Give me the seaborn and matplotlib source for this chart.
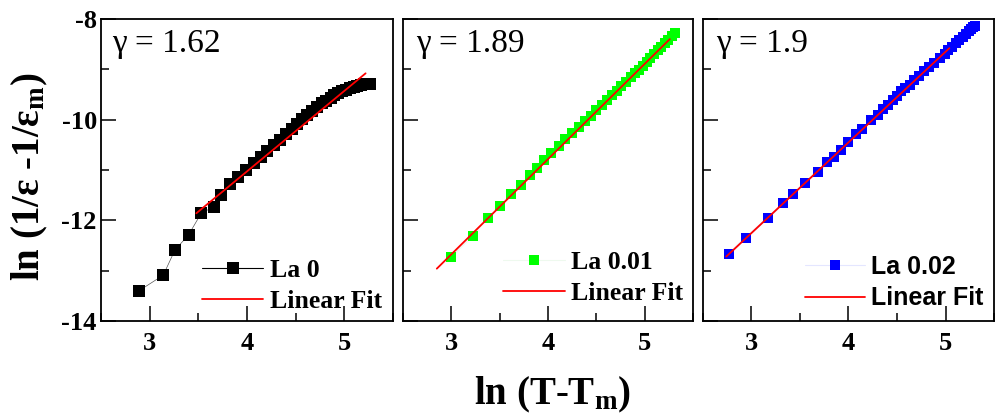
import numpy as np
import pandas as pd
import matplotlib
matplotlib.use("Agg")
import matplotlib.pyplot as plt
from matplotlib.font_manager import FontProperties
from matplotlib.ticker import MultipleLocator
import seaborn as sns

# ---- data ----
# La 0
x_la0 = [2.89, 3.14, 3.26, 3.40, 3.53, 3.66, 3.73, 3.83, 3.91, 3.99, 4.07, 4.14,
         4.21, 4.28, 4.34, 4.40, 4.46, 4.52, 4.57, 4.62, 4.67, 4.72, 4.77, 4.81,
         4.86, 4.90, 4.94, 4.98, 5.02, 5.06, 5.10, 5.13, 5.17, 5.20, 5.24, 5.27]
y_la0 = [-13.40, -13.09, -12.59, -12.29, -11.86, -11.73, -11.50, -11.27, -11.13, -11.00,
         -10.87, -10.75, -10.62, -10.50, -10.40, -10.29, -10.19, -10.08, -9.99, -9.90,
         -9.82, -9.74, -9.67, -9.62, -9.56, -9.51, -9.47, -9.44, -9.41, -9.38, -9.35,
         -9.33, -9.31, -9.30, -9.29, -9.29]
fit_x_la0 = [3.48, 5.22]
fit_y_la0 = [-11.86, -9.08]

# La 0.01
x_la1 = [3.00, 3.22, 3.38, 3.50, 3.62, 3.72, 3.81, 3.89, 3.96, 4.03, 4.11, 4.18,
         4.25, 4.32, 4.38, 4.44, 4.50, 4.56, 4.61, 4.66, 4.71, 4.76, 4.81, 4.86,
         4.90, 4.94, 4.98, 5.02, 5.06, 5.10, 5.14, 5.17, 5.21, 5.24, 5.28, 5.31]
y_la1 = [-12.73, -12.31, -11.95, -11.71, -11.48, -11.30, -11.10, -10.96, -10.80, -10.67,
         -10.52, -10.39, -10.27, -10.14, -10.03, -9.92, -9.81, -9.70, -9.61, -9.52,
         -9.43, -9.34, -9.25, -9.16, -9.08, -9.01, -8.93, -8.86, -8.78, -8.70, -8.62,
         -8.56, -8.48, -8.42, -8.34, -8.28]
fit_x_la1 = [2.85, 5.26]
fit_y_la1 = [-12.96, -8.40]

# La 0.02
x_la2 = [2.77, 2.94, 3.17, 3.33, 3.43, 3.55, 3.69, 3.78, 3.85, 3.92, 4.00, 4.08,
         4.14, 4.23, 4.30, 4.36, 4.41, 4.46, 4.50, 4.54, 4.58, 4.63, 4.68, 4.73,
         4.78, 4.83, 4.88, 4.94, 4.99, 5.03, 5.07, 5.11, 5.14, 5.18, 5.21, 5.24,
         5.26, 5.28, 5.30]
y_la2 = [-12.67, -12.35, -11.95, -11.66, -11.48, -11.25, -11.04, -10.85, -10.74, -10.60,
         -10.45, -10.29, -10.19, -10.01, -9.91, -9.79, -9.70, -9.61, -9.53, -9.44,
         -9.38, -9.31, -9.22, -9.13, -9.04, -8.95, -8.87, -8.78, -8.69, -8.62, -8.55,
         -8.48, -8.42, -8.35, -8.29, -8.23, -8.19, -8.16, -8.13]
fit_x_la2 = [2.74, 5.04]
fit_y_la2 = [-12.72, -8.58]

labels = ["La 0", "La 0.01", "La 0.02"]
gammas = ["1.62", "1.89", "1.9"]

sns.set_style("ticks")
plt.rcParams["font.family"] = "serif"
plt.rcParams["font.serif"] = ["Liberation Serif", "DejaVu Serif"]
plt.rcParams["font.weight"] = "bold"
plt.rcParams["text.color"] = "black"
plt.rcParams["xtick.color"] = "black"
plt.rcParams["ytick.color"] = "black"
plt.rcParams["axes.unicode_minus"] = False
plt.rcParams["mathtext.fontset"] = "custom"
plt.rcParams["mathtext.rm"] = "Liberation Serif:bold"
plt.rcParams["mathtext.it"] = "Liberation Serif:bold"
plt.rcParams["mathtext.bf"] = "Liberation Serif:bold"

tick_font = FontProperties(family="Liberation Serif", weight="bold", size=19)
gamma_font = FontProperties(family="Liberation Serif", weight="normal", size=24)

fig = plt.figure(figsize=(9.96, 4.19), dpi=100)
lefts = [0.1014, 0.4046, 0.7058]
widths = [0.293, 0.2912, 0.2922]
axes = [fig.add_axes([l, 0.2339, w, 0.7208]) for l, w in zip(lefts, widths)]

panels = [
    dict(x=x_la0, y=y_la0, fx=fit_x_la0, fy=fit_y_la0, mc="black", lc="#555555",
         ms=8, leg_ms=9, lw=0.5, leg_lc="black", leg_pos=(0.345, 0.115),
         prop=dict(family="Liberation Serif", weight="bold", size=18.5)),
    dict(x=x_la1, y=y_la1, fx=fit_x_la1, fy=fit_y_la1, mc="#00ff00", lc="#eef9ee",
         ms=7.2, leg_ms=7.5, lw=0.8, leg_lc="#eef9ee", leg_pos=(0.345, 0.143),
         prop=dict(family="Liberation Serif", weight="bold", size=18.5)),
    dict(x=x_la2, y=y_la2, fx=fit_x_la2, fy=fit_y_la2, mc="#0000ff", lc="#e4e6ff",
         ms=6.6, leg_ms=7.5, lw=1.5, leg_lc="#e4e6ff", leg_pos=(0.350, 0.127),
         prop=dict(family="Liberation Sans", weight="bold", size=18)),
]

for i, (ax, p) in enumerate(zip(axes, panels)):
    df = pd.DataFrame({"x": p["x"], "y": p["y"]})
    fit = pd.DataFrame({"x": p["fx"], "y": p["fy"]})
    sns.lineplot(data=df, x="x", y="y", ax=ax, color=p["lc"], lw=p["lw"],
                 marker="s", markersize=p["ms"], markerfacecolor=p["mc"],
                 markeredgecolor=p["mc"], markeredgewidth=0, label=labels[i])
    sns.lineplot(data=fit, x="x", y="y", ax=ax, color="red", lw=1.3,
                 label="Linear Fit")

    ax.set_xlim(2.5, 5.5)
    ax.set_ylim(-14, -8)
    ax.xaxis.set_major_locator(MultipleLocator(1))
    ax.xaxis.set_minor_locator(MultipleLocator(0.5))
    ax.yaxis.set_major_locator(MultipleLocator(2))
    ax.yaxis.set_minor_locator(MultipleLocator(1))
    ax.tick_params(which="both", direction="in", width=1.1, color="black",
                   top=False, right=False)
    ax.tick_params(which="major", length=11)
    ax.tick_params(which="minor", length=5.8)
    ax.tick_params(axis="x", pad=8)
    ax.tick_params(axis="y", pad=3)
    for s in ax.spines.values():
        s.set_visible(True)
        s.set_linewidth(1.3)
        s.set_color("black")
    ax.set_xlabel("")
    ax.set_ylabel("")
    ax.set_xticks([3, 4, 5])
    ax.set_xticklabels(["3", "4", "5"], fontproperties=tick_font)
    if i == 0:
        ax.set_yticks([-14, -12, -10, -8])
        ax.set_yticklabels(["-14", "-12", "-10", "-8"], fontproperties=tick_font)
    else:
        ax.set_yticklabels([])

    ax.text(0.038 if i == 0 else 0.045, 0.917, "\u03b3 = " + gammas[i],
            transform=ax.transAxes, fontproperties=gamma_font, ha="left", va="center")

    leg = ax.legend(loc="center left", bbox_to_anchor=p["leg_pos"], frameon=False,
                    prop=p["prop"], handlelength=2.4, handletextpad=0.25,
                    labelspacing=0.3, borderpad=0, borderaxespad=0)
    leg.legend_handles[0].set_markersize(p["leg_ms"])
    leg.legend_handles[0].set_color(p["leg_lc"])
    leg.legend_handles[0].set_linewidth(0.8)
    leg.set_clip_on(False)

fig.text(0.030, 0.578, r"ln (1/ε -1/ε$_{\mathrm{m}}$)", rotation=90, fontsize=28,
         fontweight="bold", family="Liberation Serif", ha="center", va="center")
fig.text(0.555, 0.058, r"ln (T-T$_{\mathrm{m}}$)", fontsize=28, fontweight="bold",
         family="Liberation Serif", ha="center", va="center")

fig.savefig("out.png", dpi=100)
